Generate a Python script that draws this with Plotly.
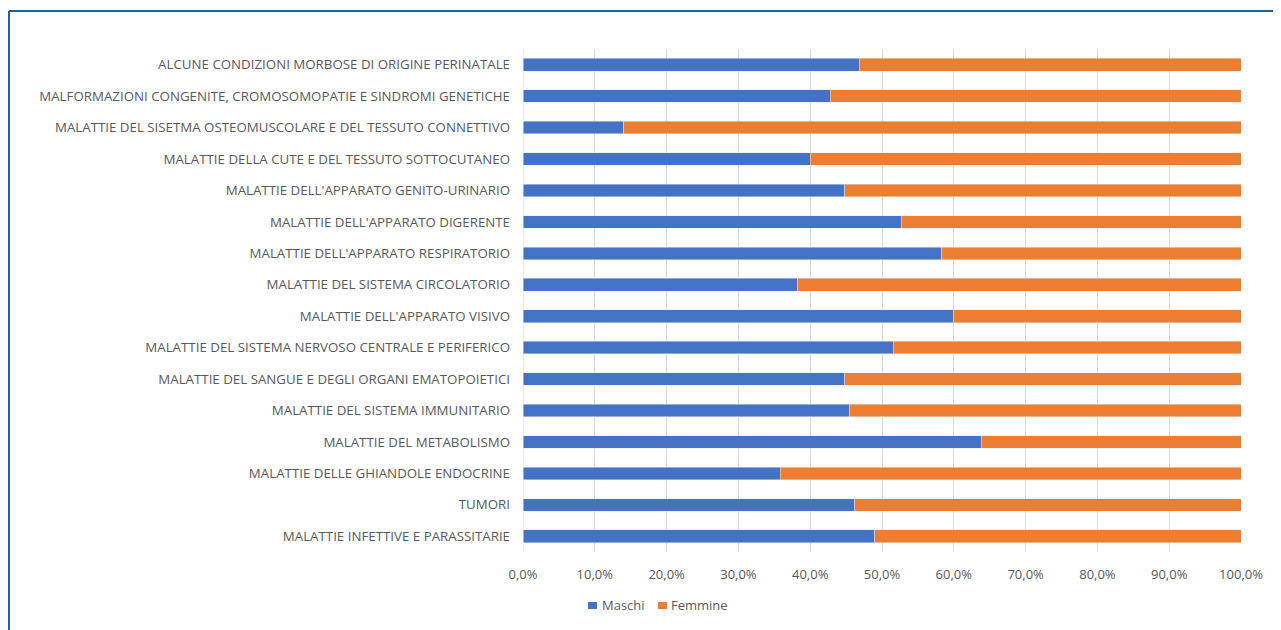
import plotly.graph_objects as go

# categories listed bottom -> top (plotly draws the first category at the bottom)
categories = [
    "MALATTIE INFETTIVE E PARASSITARIE",
    "TUMORI",
    "MALATTIE DELLE GHIANDOLE ENDOCRINE",
    "MALATTIE DEL METABOLISMO",
    "MALATTIE DEL SISTEMA IMMUNITARIO",
    "MALATTIE DEL SANGUE E DEGLI ORGANI EMATOPOIETICI",
    "MALATTIE DEL SISTEMA NERVOSO CENTRALE E PERIFERICO",
    "MALATTIE DELL'APPARATO VISIVO",
    "MALATTIE DEL SISTEMA CIRCOLATORIO",
    "MALATTIE DELL'APPARATO RESPIRATORIO",
    "MALATTIE DELL'APPARATO DIGERENTE",
    "MALATTIE DELL'APPARATO GENITO-URINARIO",
    "MALATTIE DELLA CUTE E DEL TESSUTO SOTTOCUTANEO",
    "MALATTIE DEL SISETMA OSTEOMUSCOLARE E DEL TESSUTO CONNETTIVO",
    "MALFORMAZIONI CONGENITE, CROMOSOMOPATIE E SINDROMI GENETICHE",
    "ALCUNE CONDIZIONI MORBOSE DI ORIGINE PERINATALE",
]
maschi = [49.0, 46.2, 35.8, 63.8, 45.5, 44.8, 51.6, 60.0, 38.3, 58.3, 52.7, 44.8, 40.0, 14.0, 42.8, 46.8]
femmine = [51.0, 53.8, 64.2, 36.2, 54.5, 55.2, 48.4, 40.0, 61.7, 41.7, 47.3, 55.2, 60.0, 86.0, 57.2, 53.2]

series_names = ["Maschi", "Femmine"]
series_colors = ["#4472c4", "#ed7d31"]

font_color = "#595959"
font_family = "Open Sans"

fig = go.Figure()
for name, values, color in zip(series_names, [maschi, femmine], series_colors):
    fig.add_trace(go.Bar(
        y=categories, x=values, name=name, orientation="h",
        marker=dict(color=color),
        showlegend=False,
        hovertemplate="%{y}: %{x:.1f}%<extra>" + name + "</extra>",
    ))

# Excel-style compact legend below the axis: small square + label
legend_square_x = [0.0905, 0.188]
legend_text_x = [0.1072, 0.2033]
shapes = []
annotations = []
for sq_x, tx_x, name, color in zip(legend_square_x, legend_text_x, series_names, series_colors):
    shapes.append(dict(type="rect", xref="paper", yref="paper",
                       x0=sq_x, x1=sq_x + 0.0126, y0=-0.1133, y1=-0.0994,
                       fillcolor=color, line=dict(width=0)))
    annotations.append(dict(xref="paper", yref="paper", x=tx_x, y=-0.1054,
                            xanchor="left", yanchor="middle", showarrow=False,
                            text=name, font=dict(size=13, color=font_color)))

# frame drawn around the chart (blue rule on top and left)
shapes += [
    dict(type="line", xref="paper", yref="paper",
         x0=-0.716, x1=1.2, y0=1.0755, y1=1.0755,
         line=dict(color="#1f5fa0", width=2)),
    dict(type="line", xref="paper", yref="paper",
         x0=-0.716, x1=-0.716, y0=1.0755, y1=-0.2,
         line=dict(color="#1f5fa0", width=2)),
    # axis line at 0%
    dict(type="line", xref="x", yref="paper", x0=0, x1=0, y0=0, y1=1,
         line=dict(color="#d9d9d9", width=1), layer="below"),
]

# the page body adds an 8px margin, so the figure is a bit smaller than the window
fig.update_layout(
    barmode="stack",
    bargap=0.6,
    width=1273,
    height=622,
    margin=dict(l=515, r=40, t=41, b=78),
    paper_bgcolor="#ffffff",
    plot_bgcolor="#ffffff",
    separators=",.",
    font=dict(family=font_family, size=13, color=font_color),
    showlegend=False,
    xaxis=dict(
        range=[0, 100], dtick=10, tickformat=".1f", ticksuffix="%",
        showgrid=True, gridcolor="#d9d9d9", gridwidth=1,
        zeroline=False, showline=False, ticks="",
        ticklabelstandoff=13,
        tickfont=dict(size=13, color=font_color),
    ),
    yaxis=dict(
        showgrid=False, showline=False, ticks="",
        ticklabelstandoff=12,
        tickfont=dict(size=13.3, color=font_color),
        automargin=False,
    ),
    shapes=shapes,
    annotations=annotations,
)

fig.write_html("out.html")
